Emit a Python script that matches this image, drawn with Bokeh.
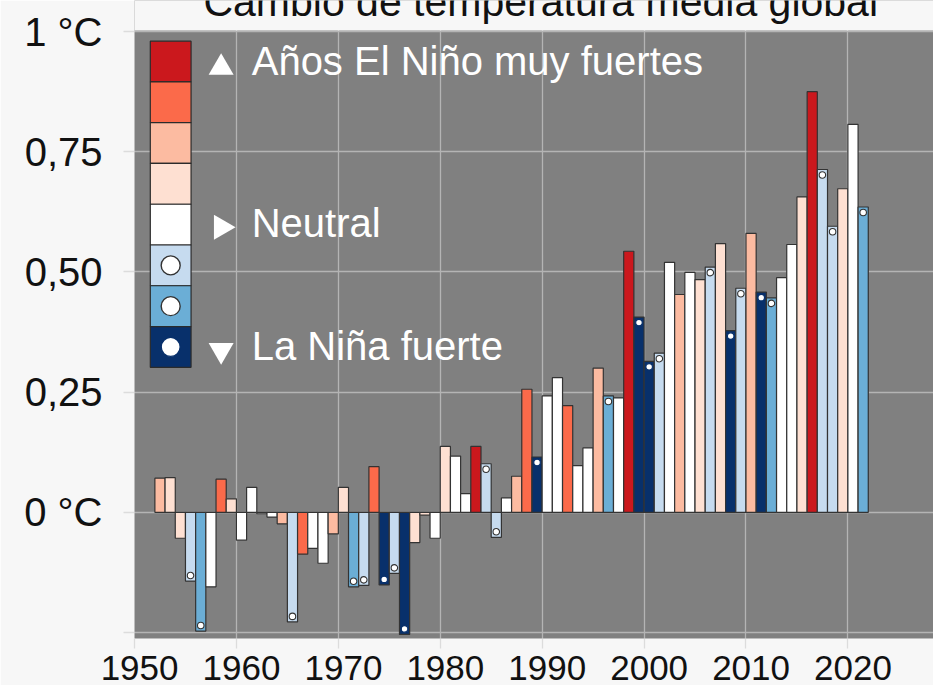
import math
from bokeh.plotting import figure
from bokeh.models import ColumnDataSource, FixedTicker, Label, Range1d
from bokeh.transform import factor_cmap
from bokeh.embed import file_html
from bokeh.resources import INLINE

# ---------------- data ----------------
years = list(range(1952, 2022))
anomaly = [
    0.071, 0.072, -0.054, -0.143, -0.247, -0.155, 0.069, 0.028, -0.058, 0.052,   # 1952-1961
    -0.003, -0.010, -0.024, -0.228, -0.087, -0.075, -0.106, -0.045, 0.052, -0.155,  # 1962-1971
    -0.152, 0.095, -0.151, -0.127, -0.254, -0.063, -0.006, -0.054, 0.137, 0.117,  # 1972-1981
    0.039, 0.137, 0.101, -0.052, 0.030, 0.075, 0.256, 0.115, 0.242, 0.280,        # 1982-1991
    0.222, 0.097, 0.134, 0.300, 0.242, 0.238, 0.543, 0.406, 0.314, 0.331,         # 1992-2001
    0.520, 0.453, 0.499, 0.484, 0.510, 0.559, 0.378, 0.466, 0.580, 0.458,         # 2002-2011
    0.446, 0.488, 0.557, 0.656, 0.875, 0.713, 0.595, 0.673, 0.807, 0.635,         # 2012-2021
]
enso = [
    "m", "w", "w", "wl", "ml", "n", "s", "w", "n", "n",
    "n", "n", "m", "wl", "s", "n", "n", "m", "w", "ml",
    "wl", "s", "sl", "wl", "sl", "w", "w", "n", "w", "n",
    "n", "vs", "wl", "wl", "n", "m", "s", "sl", "n", "n",
    "s", "n", "n", "m", "ml", "n", "vs", "sl", "sl", "wl",
    "n", "m", "n", "w", "wl", "w", "sl", "wl", "m", "sl",
    "ml", "n", "n", "w", "vs", "wl", "wl", "w", "n", "ml",
]
categories = ["vs", "s", "m", "w", "n", "wl", "ml", "sl"]
palette = ["#cb181d", "#fb6a4a", "#fcbba1", "#fee0d2", "#ffffff", "#c6dbef", "#6baed6", "#08306b"]
la_nina = ["wl", "ml", "sl"]

title_text = "Cambio de temperatura media global"
legend_labels = ["Años El Niño muy fuertes", "Neutral", "La Niña fuerte"]
x_ticks = [1950, 1960, 1970, 1980, 1990, 2000, 2010, 2020]
y_ticks = [-0.25, 0.0, 0.25, 0.5, 0.75, 1.0]
y_tick_labels = ["", "0 °C", "0,25", "0,50", "0,75", "1 °C"]

# ---------------- layout constants ----------------
FONT = "Liberation Sans"
BG = "#f7f7f7"
PX_PER_UNIT = 480.0                 # vertical pixels per °C
TOP_PAD = 31.0 / PX_PER_UNIT        # strip above the 1 °C line (holds the title)
X0, X1 = 1949.5, 2027.9
Y_TOP = 1.0                         # top of the grey plotting area
Y0, Y1 = -0.2625, Y_TOP + TOP_PAD
DOT_OFFSET = 5.5 / PX_PER_UNIT
LABEL_SHIFT = 16.0 / PX_PER_UNIT    # compensation for label baseline placement

p = figure(width=933, height=685, output_backend="svg", toolbar_location=None,
           x_range=Range1d(X0, X1), y_range=Range1d(Y0, Y1),
           min_border_left=134, min_border_right=0, min_border_top=0, min_border_bottom=47)
p.background_fill_color = "#808080"
p.border_fill_color = BG
p.outline_line_color = None

# grids
p.xgrid.ticker = FixedTicker(ticks=[t - 0.5 for t in x_ticks])
p.ygrid.ticker = FixedTicker(ticks=y_ticks)
for g in (p.xgrid, p.ygrid):
    g.grid_line_color = "#b4b4b4"
    g.grid_line_width = 1.3

# x axis
xa = p.xaxis[0]
xa.ticker = FixedTicker(ticks=x_ticks, minor_ticks=[t - 0.5 for t in x_ticks])
xa.major_label_overrides = {t: str(t) for t in x_ticks}
xa.axis_line_color = None
xa.major_tick_line_color = None
xa.major_tick_out = 0
xa.major_tick_in = 0
xa.minor_tick_out = 10
xa.minor_tick_in = 0
xa.minor_tick_line_color = "#dcdcdc"
xa.minor_tick_line_width = 1.3
xa.major_label_standoff = 7
xa.major_label_text_font = FONT
xa.major_label_text_font_size = "35px"
xa.major_label_text_color = "#111111"

# y axis
ya = p.yaxis[0]
ya.ticker = FixedTicker(ticks=y_ticks)
ya.major_label_overrides = dict(zip(y_ticks, y_tick_labels))
ya.axis_line_color = None
ya.major_tick_out = 11
ya.major_tick_in = 0
ya.major_tick_line_color = "#dcdcdc"
ya.major_tick_line_width = 1.3
ya.minor_tick_line_color = None
ya.major_label_standoff = 21
ya.major_label_text_font = FONT
ya.major_label_text_font_size = "40px"
ya.major_label_text_color = "#111111"

# light strip above the plotting area (page background colour), for the title
p.quad(left=X0 - 1, right=X1 + 1, bottom=Y_TOP + 1.0 / PX_PER_UNIT, top=Y1 + 0.01,
       fill_color=BG, line_color=None)

# bars
src = ColumnDataSource(dict(year=years, value=anomaly, cat=enso))
p.vbar(x="year", top="value", bottom=0, width=1.0, source=src,
       fill_color=factor_cmap("cat", palette, categories),
       line_color="#333333", line_width=1.2)

# La Niña dots near the bar ends
dx, dy, dl = [], [], []
for yr, v, c in zip(years, anomaly, enso):
    if c in la_nina:
        dx.append(yr)
        dy.append(v - math.copysign(DOT_OFFSET, v))
        dl.append("#08306b" if c == "sl" else "#333333")
p.scatter(x=dx, y=dy, marker="circle", size=6.5, fill_color="white",
          line_color=dl, line_width=1.1)

# custom legend: colour column
LX0, LX1 = 1951.05, 1955.05
LTOP, ROW = 0.980, 0.0848
tops = [LTOP - i * ROW for i in range(len(palette))]
bottoms = [t - ROW for t in tops]
p.quad(left=LX0, right=LX1, top=tops, bottom=bottoms, fill_color=palette,
       line_color="#2b2b2b", line_width=1.2)
lc_y = [tops[i] - ROW / 2 for i in range(5, 8)]
p.scatter(x=[(LX0 + LX1) / 2] * 3, y=lc_y, marker="circle", size=19,
          fill_color="white", line_color=["#333333", "#333333", "#08306b"], line_width=1.4)

# legend arrows and texts
TRI_X = 1958.0
tri_y = [0.925, 0.593, 0.337]
p.scatter(x=[TRI_X] * 3, y=tri_y, marker=["triangle", "triangle", "inverted_triangle"],
          angle=[0, -math.pi / 2, 0], size=25, fill_color="white", line_color=None)
txt_y = [0.906, 0.5675, 0.3125]
for lab, ty in zip(legend_labels, txt_y):
    p.add_layout(Label(x=1961.0, y=ty + LABEL_SHIFT, text=lab, text_color="white",
                       text_font=FONT, text_font_size="40px",
                       text_baseline="alphabetic", text_align="left"))

# title (partially cut off at the top as in the reference)
p.add_layout(Label(x=1989.36, y=Y1 - 1.0 / PX_PER_UNIT, text=title_text, text_color="#111111",
                   text_font=FONT, text_font_size="41px",
                   text_baseline="alphabetic", text_align="center"))

open("out.html", "w").write(file_html(p, INLINE))
